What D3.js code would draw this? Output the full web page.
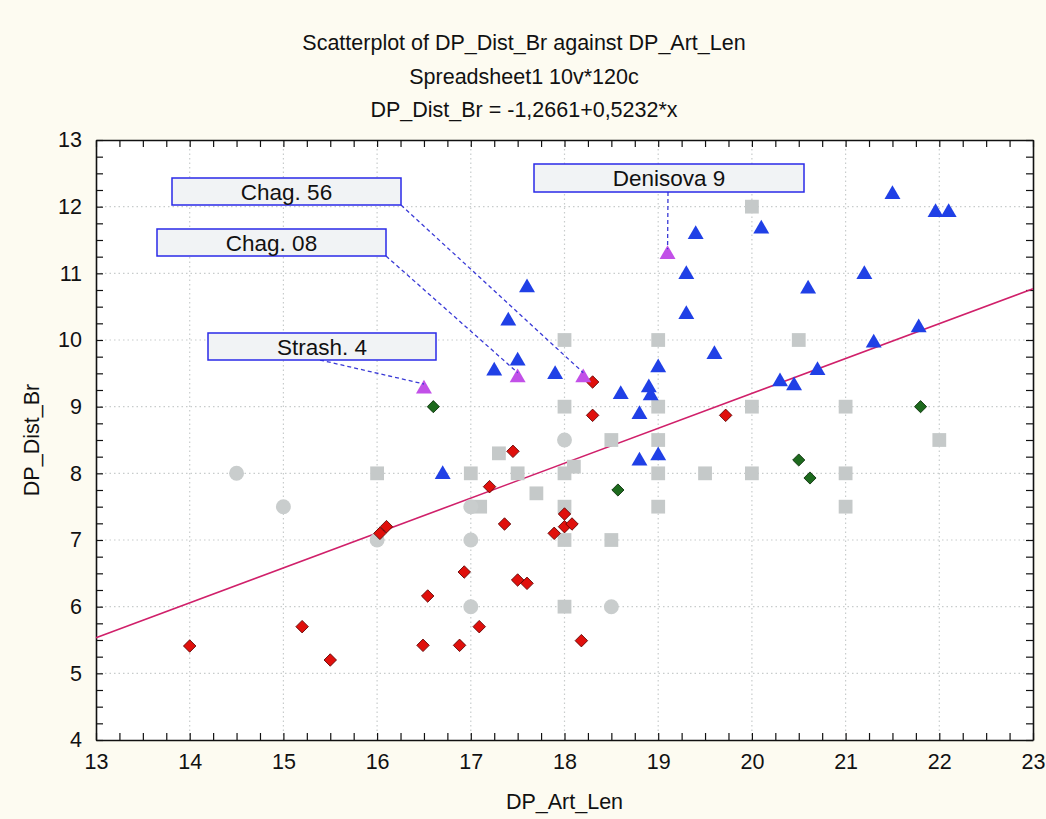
<!DOCTYPE html>
<html>
<head>
<meta charset="utf-8">
<script src="https://cdn.jsdelivr.net/npm/d3@7"></script>
<style>
  body { margin: 0; background: #fdfbf1; }
  #graphic { width: 1046px; height: 819px; }
</style>
</head>
<body>
<div id="graphic"></div>
<script>
// data (DP_Art_Len, DP_Dist_Br)
const grayRect = [
  [16.0, 8.0], [17.0, 8.0], [17.1, 7.5], [17.3, 8.3], [17.5, 8.0], [17.7, 7.7],
  [18.0, 10.0], [18.0, 9.0], [18.0, 8.0], [18.1, 8.1], [18.0, 7.5], [18.0, 7.0], [18.0, 6.0],
  [18.5, 8.5], [18.5, 7.0], [19.0, 10.0], [19.0, 9.0], [19.0, 8.5], [19.0, 8.0], [19.0, 7.5],
  [19.5, 8.0], [20.0, 12.0], [20.0, 9.0], [20.0, 8.0], [20.5, 10.0],
  [21.0, 9.0], [21.0, 8.0], [21.0, 7.5], [22.0, 8.5]
]
const grayCircle = [
  [14.5, 8.0], [15.0, 7.5], [16.0, 7.0], [17.0, 7.5], [17.0, 7.0], [17.0, 6.0],
  [18.0, 8.5], [18.5, 6.0]
]
const redDiamond = [
  [14.0, 5.41], [15.2, 5.7], [15.5, 5.2], [16.03, 7.1], [16.1, 7.2], [16.49, 5.42],
  [16.54, 6.16], [16.88, 5.42], [16.93, 6.52], [17.09, 5.7], [17.2, 7.8], [17.36, 7.24],
  [17.45, 8.33], [17.5, 6.4], [17.6, 6.35], [17.89, 7.1], [18.0, 7.39], [18.0, 7.2],
  [18.08, 7.24], [18.18, 5.49], [18.3, 9.37], [18.3, 8.87], [19.72, 8.87]
]
const greenDiamond = [
  [16.6, 9.0], [18.57, 7.75], [20.5, 8.2], [20.62, 7.93], [21.8, 9.0]
]
const blueTriangle = [
  [16.7, 8.0], [17.25, 9.55], [17.4, 10.3], [17.5, 9.7], [17.6, 10.8], [17.9, 9.5],
  [18.6, 9.2], [18.8, 8.9], [18.8, 8.2], [18.9, 9.3], [18.92, 9.18], [19.0, 9.6], [19.0, 8.28],
  [19.3, 11.0], [19.3, 10.4], [19.4, 11.6], [19.6, 9.8], [20.1, 11.68], [20.3, 9.39],
  [20.45, 9.33], [20.6, 10.78], [20.7, 9.56], [21.2, 11.0], [21.3, 9.97], [21.5, 12.2],
  [21.78, 10.2], [21.96, 11.93], [22.1, 11.93]
]
const namedCases = ["Strash. 4", "Chag. 08", "Chag. 56", "Denisova 9"]
const namedValues = [[16.5, 9.28], [17.5, 9.45], [18.2, 9.45], [19.1, 11.3]]

const fitA = -1.2661, fitB = 0.5232
const xTicks = d3.range(13, 24)
const yTicks = d3.range(4, 14)

// label boxes (pixels) and where the leader line leaves the box
const boxes = [
  { x: 208, y: 333, w: 228, h: 27, lx: 320, ly: 360 },
  { x: 157, y: 229, w: 229, h: 27, lx: 386, ly: 256 },
  { x: 172, y: 178, w: 229, h: 27, lx: 401, ly: 205 },
  { x: 534, y: 164, w: 270, h: 28, lx: 668, ly: 192 }
]

const W = 1046, H = 819
const FONT = "Liberation Sans, Arial, sans-serif"
const margin = { top: 140, right: 13, bottom: 79, left: 96 },
    width = W - margin.left - margin.right,
    height = H - margin.top - margin.bottom;

const root = d3.select("#graphic")
    .append("svg")
    .attr("width", W)
    .attr("height", H)
    .style("font-family", FONT)

root.append("rect").attr("width", W).attr("height", H).attr("fill", "#fdfbf1")

const titles = ["Scatterplot of DP_Dist_Br against DP_Art_Len", "Spreadsheet1 10v*120c", "DP_Dist_Br = -1,2661+0,5232*x"]
root.selectAll("text.title")
    .data(titles)
    .join("text")
    .attr("class", "title")
    .attr("x", 524)
    .attr("y", (d, i) => 50 + i * 33.5)
    .attr("text-anchor", "middle")
    .attr("font-size", "21.5px")
    .attr("fill", "#111")
    .text(d => d)

const svg = root.append("g")
    .attr("transform", `translate(${margin.left},${margin.top})`);

const x = d3.scaleLinear().domain([13, 23]).range([0, width])
const y = d3.scaleLinear().domain([4, 13]).range([height, 0])

svg.append("rect").attr("width", width).attr("height", height).attr("fill", "#fff")

// dotted grid
svg.append("g")
    .selectAll("line")
    .data(xTicks.slice(1, -1))
    .join("line")
    .attr("x1", d => x(d)).attr("x2", d => x(d))
    .attr("y1", 0).attr("y2", height)
svg.append("g")
    .selectAll("line")
    .data(yTicks.slice(1, -1))
    .join("line")
    .attr("y1", d => y(d)).attr("y2", d => y(d))
    .attr("x1", 0).attr("x2", width)
svg.selectAll("g line")
    .attr("stroke", "#c8cccc")
    .attr("stroke-width", 1.2)
    .attr("stroke-dasharray", "1.5,3")

// axes on all four sides, ticks inward
const minorX = d3.range(13, 23.01, 0.25)
const minorY = d3.range(4, 13.01, 0.25)
const styleAxis = g => {
    g.select(".domain").attr("stroke", "#111").attr("stroke-width", 1.6)
    g.selectAll(".tick line").attr("stroke", "#111").attr("stroke-width", 1.2)
    g.selectAll("text").attr("font-size", "21.5px").attr("fill", "#111")
        .attr("font-family", FONT)
}
svg.append("g")
    .attr("transform", `translate(0, ${height})`)
    .call(d3.axisBottom(x).tickValues(minorX).tickSize(-7).tickPadding(14).tickSizeOuter(0)
        .tickFormat(d => Number.isInteger(d) ? d : ""))
    .call(styleAxis)
svg.append("g")
    .call(d3.axisTop(x).tickValues(minorX).tickSize(-7).tickFormat("").tickSizeOuter(0))
    .call(styleAxis)
svg.append("g")
    .call(d3.axisLeft(y).tickValues(minorY).tickSize(-7).tickPadding(14).tickSizeOuter(0)
        .tickFormat(d => Number.isInteger(d) ? d : ""))
    .call(styleAxis)
svg.append("g")
    .attr("transform", `translate(${width}, 0)`)
    .call(d3.axisRight(y).tickValues(minorY).tickSize(-7).tickFormat("").tickSizeOuter(0))
    .call(styleAxis)

// regression line
svg.append("line")
    .attr("x1", x(13)).attr("y1", y(fitA + fitB * 13))
    .attr("x2", x(23)).attr("y2", y(fitA + fitB * 23))
    .attr("stroke", "#d0206a")
    .attr("stroke-width", 1.6)

const sym = (type, size) => d3.symbol().type(type).size(size)()

const layer = svg.append("g")
layer.selectAll("path.gr")
    .data(grayRect).join("path")
    .attr("transform", d => `translate(${x(d[0])},${y(d[1])})`)
    .attr("d", sym(d3.symbolSquare, 190))
    .attr("fill", "#c5c9c9")
layer.selectAll("path.gc")
    .data(grayCircle).join("path")
    .attr("transform", d => `translate(${x(d[0])},${y(d[1])})`)
    .attr("d", sym(d3.symbolCircle, 175))
    .attr("fill", "#c9cdcd")
layer.selectAll("path.rd")
    .data(redDiamond).join("path")
    .attr("transform", d => `translate(${x(d[0])},${y(d[1])}) rotate(45)`)
    .attr("d", sym(d3.symbolSquare, 78))
    .attr("fill", "#e0100c")
    .attr("stroke", "#5a0000").attr("stroke-width", 0.8)
layer.selectAll("path.gd")
    .data(greenDiamond).join("path")
    .attr("transform", d => `translate(${x(d[0])},${y(d[1])}) rotate(45)`)
    .attr("d", sym(d3.symbolSquare, 74))
    .attr("fill", "#1d6a1d")
    .attr("stroke", "#062a06").attr("stroke-width", 0.8)
layer.selectAll("path.bt")
    .data(blueTriangle).join("path")
    .attr("transform", d => `translate(${x(d[0])},${y(d[1]) + 1})`)
    .attr("d", sym(d3.symbolTriangle, 110))
    .attr("fill", "#2040e6")

// leader lines, named points, label boxes
svg.append("g")
    .selectAll("line")
    .data(boxes)
    .join("line")
    .attr("x1", d => d.lx - margin.left).attr("y1", d => d.ly - margin.top)
    .attr("x2", (d, i) => x(namedValues[i][0])).attr("y2", (d, i) => y(namedValues[i][1]) - 4)
    .attr("stroke", "#3a3ad6")
    .attr("stroke-width", 1.3)
    .attr("stroke-dasharray", "4,3")

layer.append("g").selectAll("path")
    .data(namedValues).join("path")
    .attr("transform", d => `translate(${x(d[0])},${y(d[1]) + 1})`)
    .attr("d", sym(d3.symbolTriangle, 110))
    .attr("fill", "#c250e8")

const lab = root.append("g")
    .selectAll("g")
    .data(boxes)
    .join("g")
lab.append("rect")
    .attr("x", d => d.x).attr("y", d => d.y)
    .attr("width", d => d.w).attr("height", d => d.h)
    .attr("fill", "#f1f3f5")
    .attr("stroke", "#2a2ae8")
    .attr("stroke-width", 1.5)
lab.append("text")
    .attr("x", d => d.x + d.w / 2)
    .attr("y", d => d.y + d.h / 2 + 8)
    .attr("text-anchor", "middle")
    .attr("font-size", "22.5px")
    .attr("fill", "#111")
    .text((d, i) => namedCases[i])

root.append("text")
    .attr("x", margin.left + width / 2)
    .attr("y", 809)
    .attr("text-anchor", "middle")
    .attr("font-size", "21.5px")
    .attr("fill", "#111")
    .text("DP_Art_Len")
root.append("text")
    .attr("transform", `translate(39, ${margin.top + height / 2}) rotate(-90)`)
    .attr("text-anchor", "middle")
    .attr("font-size", "21.5px")
    .attr("fill", "#111")
    .text("DP_Dist_Br")
</script>
</body>
</html>
